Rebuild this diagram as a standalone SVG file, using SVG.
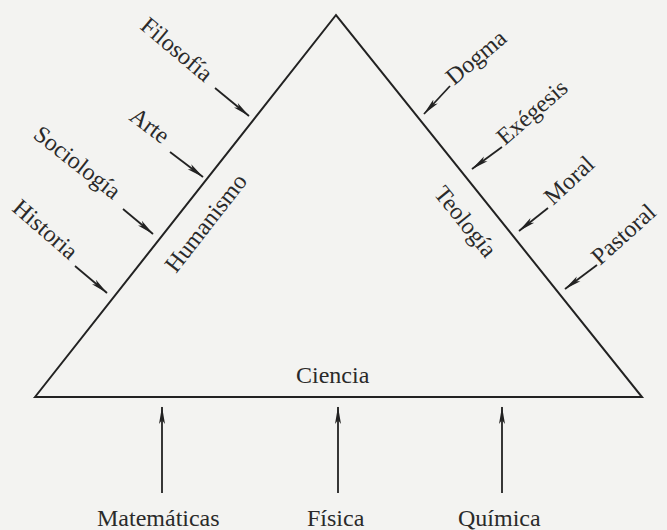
<svg xmlns="http://www.w3.org/2000/svg" width="667" height="530" viewBox="0 0 667 530">
<defs>
<marker id="ah" viewBox="0 0 18 8" refX="17" refY="4" markerWidth="18" markerHeight="8" markerUnits="userSpaceOnUse" orient="auto">
<path d="M0,1 L17.5,4 L0,7 L4,4 Z" fill="#222"/>
</marker>
<style>
.lbl{font-family:"Liberation Serif","Times New Roman",serif;font-size:24px;fill:#2a2a2a}
.edge{fill:none;stroke:#222;stroke-width:2;stroke-linejoin:miter}
.arr{stroke:#222;stroke-width:1.8;fill:none;marker-end:url(#ah)}
</style>
</defs>
<rect width="667" height="530" fill="#f3f3f1"/>
<g id="triangle">
<path class="edge" d="M35,397 L336,15 L642,397 Z"/>
</g>
<g id="connectors">
<line class="arr" x1="215" y1="88" x2="249" y2="116"/>
<line class="arr" x1="170" y1="152" x2="203" y2="177"/>
<line class="arr" x1="123" y1="209" x2="153" y2="234"/>
<line class="arr" x1="75" y1="266" x2="107" y2="293"/>
<line class="arr" x1="450" y1="86" x2="424" y2="114"/>
<line class="arr" x1="502" y1="147" x2="472" y2="169"/>
<line class="arr" x1="548" y1="208" x2="519" y2="231"/>
<line class="arr" x1="597" y1="265" x2="565" y2="289"/>
<line class="arr" x1="162" y1="493" x2="162" y2="407"/>
<line class="arr" x1="338" y1="493" x2="338" y2="407"/>
<line class="arr" x1="502" y1="493" x2="502" y2="407"/>
</g>
<g id="n-filosofia"><text class="lbl" transform="translate(139,28) rotate(40)">Filosofía</text></g>
<g id="n-arte"><text class="lbl" transform="translate(128,119) rotate(37)">Arte</text></g>
<g id="n-sociologia"><text class="lbl" transform="translate(32,137) rotate(38)">Sociología</text></g>
<g id="n-historia"><text class="lbl" transform="translate(11,210) rotate(41)">Historia</text></g>
<g id="n-humanismo"><text class="lbl" transform="translate(176,274) rotate(-52)">Humanismo</text></g>
<g id="n-dogma"><text class="lbl" transform="translate(454,86) rotate(-40)">Dogma</text></g>
<g id="n-exegesis"><text class="lbl" transform="translate(505,146) rotate(-41)">Exégesis</text></g>
<g id="n-moral"><text class="lbl" transform="translate(553,206) rotate(-43)">Moral</text></g>
<g id="n-pastoral"><text class="lbl" transform="translate(600,266) rotate(-42)">Pastoral</text></g>
<g id="n-teologia"><text class="lbl" transform="translate(433,194) rotate(51)">Teología</text></g>
<g id="n-ciencia"><text class="lbl" x="296" y="383">Ciencia</text></g>
<g id="n-matematicas"><text class="lbl" x="97" y="526">Matemáticas</text></g>
<g id="n-fisica"><text class="lbl" x="307" y="526">Física</text></g>
<g id="n-quimica"><text class="lbl" x="458" y="526">Química</text></g>
</svg>
